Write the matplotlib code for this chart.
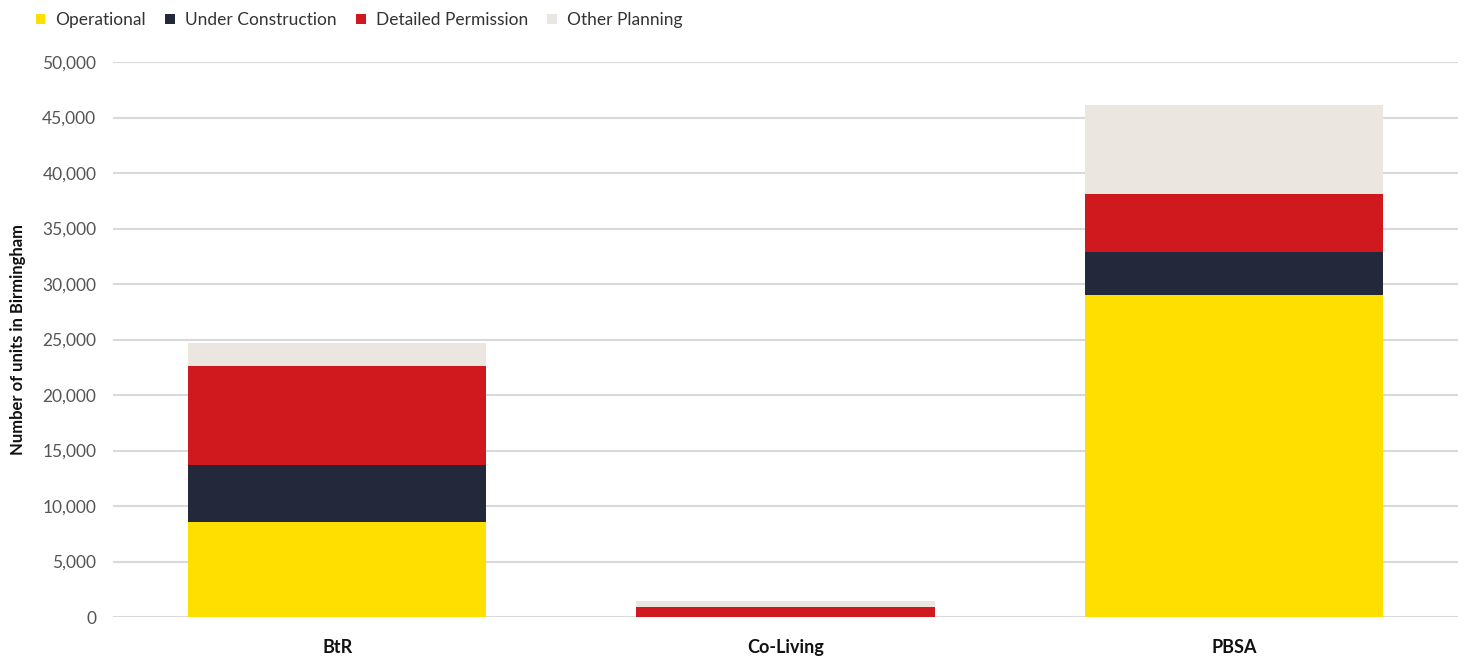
import matplotlib
matplotlib.use("Agg")
import matplotlib.pyplot as plt
from matplotlib.ticker import FuncFormatter

categories = ["BtR", "Co-Living", "PBSA"]
operational = [8600, 0, 29000]
under_construction = [5100, 0, 3900]
detailed_permission = [8900, 900, 5200]
other_planning = [2100, 500, 8000]

series = [
    ("Operational", operational, "#FFDF00"),
    ("Under Construction", under_construction, "#24283B"),
    ("Detailed Permission", detailed_permission, "#D0191F"),
    ("Other Planning", other_planning, "#EBE6E0"),
]

plt.rcParams["font.family"] = ["Lato", "DejaVu Sans"]

fig = plt.figure(figsize=(14.66, 6.58), dpi=100)
ax = fig.add_axes([113 / 1466, 41 / 658, 1345 / 1466, 555 / 658])

x = range(len(categories))
bottom = [0] * len(categories)
handles = []
for name, vals, col in series:
    b = ax.bar(x, vals, bottom=bottom, width=0.665, color=col, label=name, zorder=3)
    handles.append(b)
    bottom = [a + v for a, v in zip(bottom, vals)]

ax.set_xlim(-0.5, 2.5)
ax.set_ylim(0, 50000)
ax.set_yticks(range(0, 50001, 5000))
ax.yaxis.set_major_formatter(FuncFormatter(lambda v, p: f"{int(v):,}"))
ax.set_xticks(list(x))
ax.set_xticklabels(categories, fontsize=13, fontweight="bold", color="#111111")
ax.tick_params(axis="y", length=0, labelsize=12.5, labelcolor="#555555", pad=12)
ax.tick_params(axis="x", length=0, pad=16)
ax.grid(axis="y", color="#D9D9D9", linewidth=1.5, zorder=0)
ax.set_axisbelow(True)
for s in ax.spines.values():
    s.set_visible(False)

ax.set_ylabel("Number of units in Birmingham", fontsize=12, fontweight="bold",
              color="#111111", labelpad=12)

fig.legend(handles=handles, labels=[s[0] for s in series], loc="upper left",
           bbox_to_anchor=(20 / 1466, 1.005), ncol=4, frameon=False, fontsize=12.5,
           handlelength=0.55, handleheight=0.55, handletextpad=0.6,
           columnspacing=1.1, labelcolor="#333333")

fig.savefig("out.png", facecolor="white")
